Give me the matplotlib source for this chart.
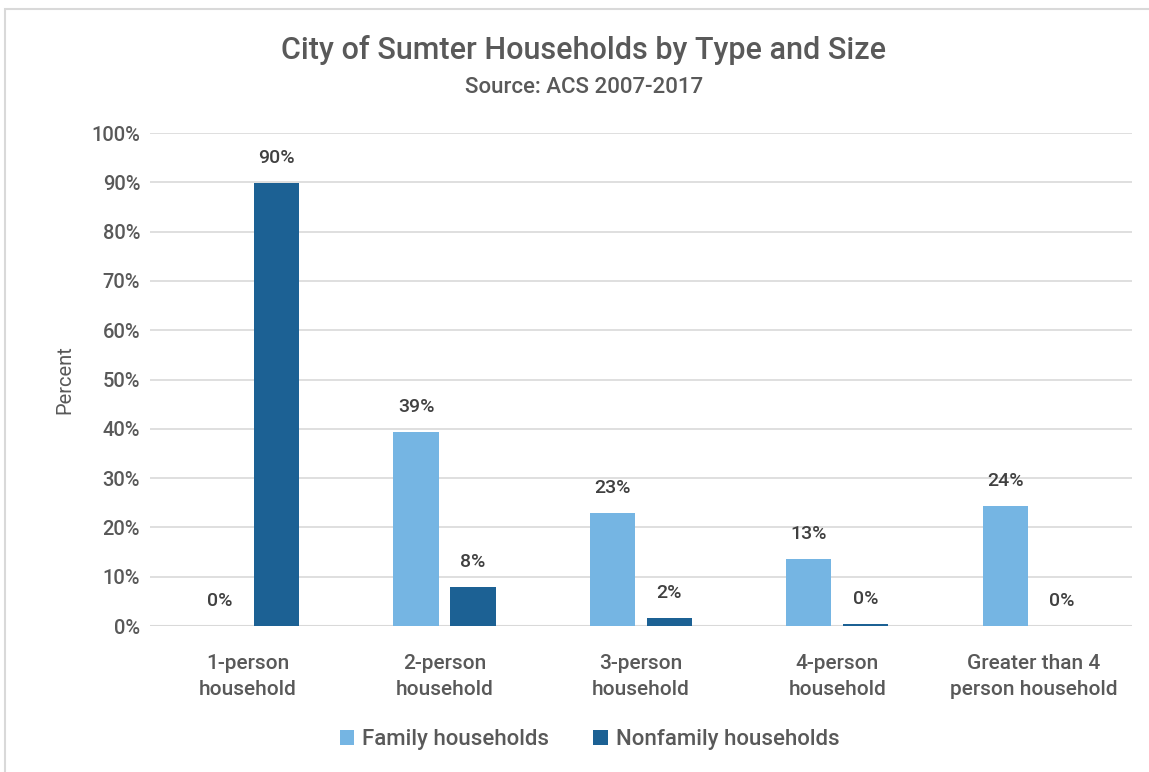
import matplotlib.pyplot as plt
import numpy as np
from matplotlib.patches import Rectangle

categories = ["1-person\nhousehold", "2-person\nhousehold", "3-person\nhousehold",
              "4-person\nhousehold", "Greater than 4\nperson household"]
family = [0.0, 39.3, 22.9, 13.6, 24.3]
nonfamily = [89.9, 7.9, 1.6, 0.4, 0.0]
family_labels = ["0%", "39%", "23%", "13%", "24%"]
nonfamily_labels = ["90%", "8%", "2%", "0%", "0%"]

plt.rcParams["font.family"] = ["Roboto", "DejaVu Sans"]
plt.rcParams["font.weight"] = "medium"
text_c = "#595959"

fig = plt.figure(figsize=(11.49, 7.72), dpi=100)
fig.patches.append(Rectangle((0.004, -0.1), 1.2, 1.088, transform=fig.transFigure,
                             fill=False, edgecolor="#d9d9d9", lw=1.5))
ax = fig.add_axes([0.1305, 0.189, 0.8545, 0.6387])

x = np.arange(len(categories))
w = 0.23
gap = 0.03
b1 = ax.bar(x - w / 2 - gap, family, w, color="#75b5e3", label="Family households", zorder=3)
b2 = ax.bar(x + w / 2 + gap, nonfamily, w, color="#1c6194", label="Nonfamily households", zorder=3)

for bars, labs in ((b1, family_labels), (b2, nonfamily_labels)):
    for rect, lab in zip(bars, labs):
        ax.text(rect.get_x() + rect.get_width() / 2, rect.get_height() + 3.3, lab,
                ha="center", va="bottom", fontsize=14, color="#404040", fontweight="medium")

ax.set_ylim(0, 100)
ax.set_xlim(-0.5, len(categories) - 0.5)
ax.set_yticks(range(0, 101, 10))
ax.set_yticklabels([f"{v}%" for v in range(0, 101, 10)])
ax.set_xticks(x)
ax.set_xticklabels(categories, linespacing=1.45)
ax.tick_params(axis="both", length=0, colors=text_c)
ax.tick_params(axis="x", pad=20, labelsize=15)
ax.tick_params(axis="y", pad=7, labelsize=14.5)
ax.grid(axis="y", color="#d9d9d9", lw=1.2, zorder=0)
for s in ax.spines.values():
    s.set_visible(False)
ax.axhline(0, color="#d9d9d9", lw=1.5, zorder=2)
ax.set_ylabel("Percent", fontsize=14.5, color=text_c, labelpad=12)

fig.text(0.508, 0.935, "City of Sumter Households by Type and Size", ha="center", va="center",
         fontsize=22, color=text_c, fontweight="medium")
fig.text(0.508, 0.887, "Source: ACS 2007-2017", ha="center", va="center",
         fontsize=16, color=text_c, fontweight="medium")

fig.legend(handles=[b1, b2], loc="center", bbox_to_anchor=(0.513, 0.042), ncol=2, frameon=False,
           fontsize=16, labelcolor=text_c, handlelength=0.65, handleheight=0.65,
           columnspacing=2.0, handletextpad=0.35)

fig.savefig("out.png", dpi=100)
